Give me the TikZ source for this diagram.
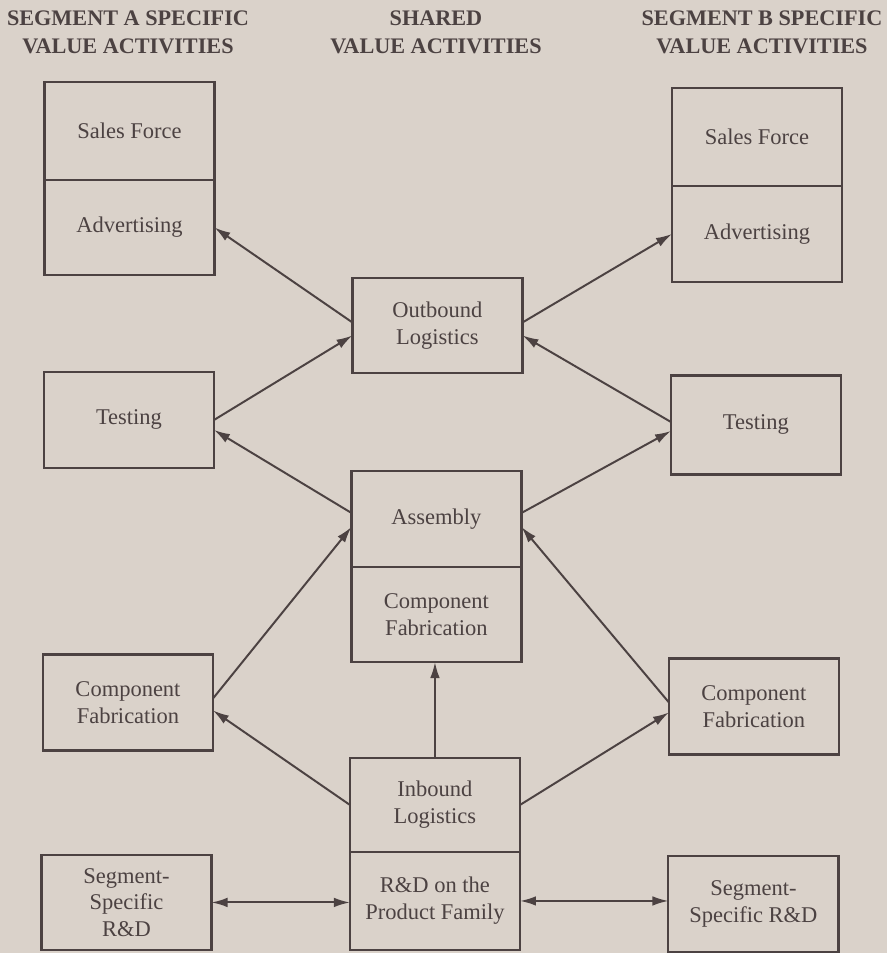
\documentclass[tikz,border=0pt]{standalone}
\usepackage{fontspec}
\setmainfont{Liberation Serif}
\usepackage{xcolor}
\usepackage{tikz}
\usetikzlibrary{positioning, arrows.meta}

\definecolor{paper}{RGB}{218,210,202}
\definecolor{ink}{RGB}{76,66,66}

\begin{document}
\begin{tikzpicture}[x=0.025cm, y=-0.025cm,
  box/.style={draw=ink, line width=1.5pt, minimum width=4.25cm, minimum height=2.4cm,
    align=center, inner sep=2pt, outer sep=0pt, text=ink,
    font=\fontsize{16}{19}\selectfont},
  head/.style={align=center, text=ink, font=\fontsize{15.8}{20}\selectfont\bfseries},
  arr/.style={draw=ink, line width=1.4pt, -{Latex[length=0.4cm, width=0.24cm]}},
  dbl/.style={draw=ink, line width=1.4pt, {Latex[length=0.4cm, width=0.24cm]}-{Latex[length=0.4cm, width=0.24cm]}}]

  % Page
  \fill[paper] (0,0) rectangle (887,953);

  % Column headings
  \node[head] (hdra) at (128,32) {SEGMENT A SPECIFIC\\VALUE ACTIVITIES};
  \node[head] (hdrs) at (436,32) {SHARED\\VALUE ACTIVITIES};
  \node[head] (hdrb) at (762,32) {SEGMENT B SPECIFIC\\VALUE ACTIVITIES};

  % Segment A column
  \node[box, minimum height=2.45cm] (lsales) at (129.5,131) {Sales Force};
  \node[box, minimum height=2.375cm, below=0pt of lsales] (ladv) {Advertising};
  \node[box] (ltest) at (129,420) {Testing};
  \node[box] (lfab) at (128,702.5) {Component\\Fabrication};
  \node[box, minimum height=2.375cm] (lrd) at (126.5,902.5) {Segment-\\Specific\\R\&D};

  % Shared column
  \node[box, minimum height=2.375cm] (out) at (437.5,325.5) {Outbound\\Logistics};
  \node[box] (asm) at (436.5,519) {Assembly};
  \node[box, minimum height=2.375cm, below=0pt of asm] (cfab) {Component\\Fabrication};
  \node[box, minimum height=2.35cm] (inb) at (435,805) {Inbound\\Logistics};
  \node[box, minimum height=2.45cm, below=0pt of inb] (rdp) {R\&D on the\\Product Family};

  % Segment B column
  \node[box, minimum height=2.45cm] (rsales) at (757,137) {Sales Force};
  \node[box, below=0pt of rsales] (radv) {Advertising};
  \node[box, minimum height=2.475cm] (rtest) at (756,425) {Testing};
  \node[box] (rfab) at (754,706.5) {Component\\Fabrication};
  \node[box] (rrd) at (753.5,904) {Segment-\\Specific R\&D};

  % Upper links
  \draw[arr] ([yshift=0.075cm]out.west) -- (ladv.east);
  \draw[arr] (ltest.east) -- ([yshift=-0.25cm]out.west);
  \draw[arr] ([yshift=0.075cm]out.east) -- (radv.west);
  \draw[arr] ([yshift=0.075cm]rtest.west) -- ([yshift=-0.25cm]out.east);

  % Middle links
  \draw[arr] ([yshift=0.15cm]asm.west) -- ([yshift=-0.25cm]ltest.east);
  \draw[arr] ([yshift=0.15cm]asm.east) -- ([yshift=-0.15cm]rtest.west);
  \draw[arr] ([yshift=0.1cm]lfab.east) -- ([yshift=-0.2cm]asm.west);
  \draw[arr] ([yshift=0.1cm]rfab.west) -- ([yshift=-0.2cm]asm.east);

  % Lower links
  \draw[arr] (inb.west) -- ([yshift=-0.2cm]lfab.east);
  \draw[arr] (inb.east) -- ([yshift=-0.15cm]rfab.west);
  \draw[arr] (inb.north) -- (inb.north |- cfab.south);
  \draw[dbl] (lrd.east) -- (lrd.east -| rdp.west);
  \draw[dbl] (rdp.east) -- (rdp.east -| rrd.west);
\end{tikzpicture}
\end{document}
